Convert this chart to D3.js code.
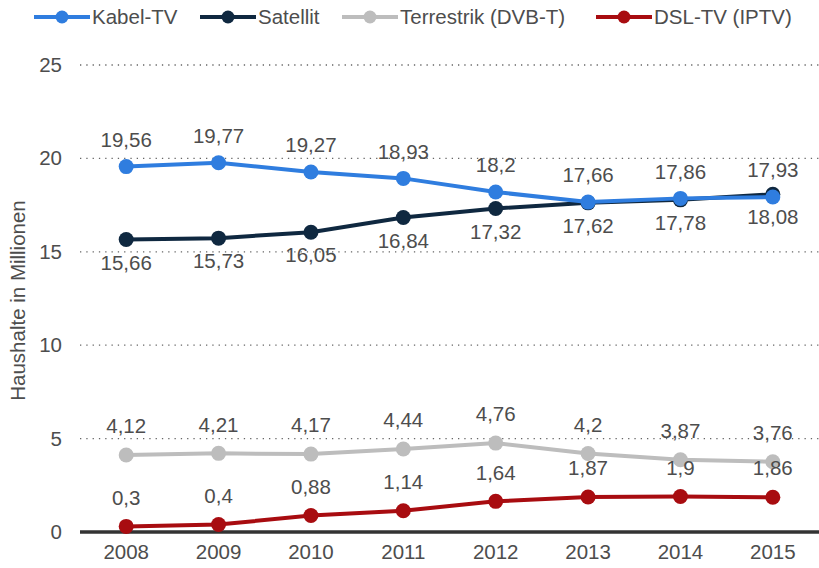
<!DOCTYPE html>
<html>
<head>
<meta charset="utf-8">
<script src="https://cdn.jsdelivr.net/npm/d3@7"></script>
<style>
body { margin: 0; background: #fff; }
svg { font-family: "Liberation Sans", Arial, sans-serif; }
</style>
</head>
<body>
<svg id="chart"></svg>
<script>
var years = ["2008", "2009", "2010", "2011", "2012", "2013", "2014", "2015"];
var kabel = [19.56, 19.77, 19.27, 18.93, 18.2, 17.66, 17.86, 17.93];
var satellit = [15.66, 15.73, 16.05, 16.84, 17.32, 17.62, 17.78, 18.08];
var terrestrik = [4.12, 4.21, 4.17, 4.44, 4.76, 4.2, 3.87, 3.76];
var dsl = [0.3, 0.4, 0.88, 1.14, 1.64, 1.87, 1.9, 1.86];
var yTicks = [0, 5, 10, 15, 20, 25];

var screen = {width: 819, height: 568};
var margins = {top: 65, right: 0, bottom: 36, left: 80};
var width = screen.width - margins.left - margins.right;
var height = screen.height - margins.top - margins.bottom;
var fs = 20.5;
var textColor = "#4d4d4d";

// label offset: negative = above the point
var series = [
    {name: "Kabel-TV", values: kabel, color: "#2f7ddf", dy: -27},
    {name: "Satellit", values: satellit, color: "#0f2840", dy: 23},
    {name: "Terrestrik (DVB-T)", values: terrestrik, color: "#bdbdbd", dy: -29},
    {name: "DSL-TV (IPTV)", values: dsl, color: "#a80c10", dy: -29}
];

var svg = d3.select("#chart")
    .attr("width", screen.width)
    .attr("height", screen.height);

var g = svg.append("g")
    .attr("transform", "translate(" + margins.left + "," + margins.top + ")");

var xScale = d3.scaleBand().domain(years).range([0, width]);
var yScale = d3.scaleLinear().domain([0, 25]).range([height, 0]);
var xc = function(i) { return xScale(years[i]) + xScale.bandwidth() / 2; };

// grid
g.append("g").selectAll("line")
    .data(yTicks.filter(function(t) { return t > 0; }))
    .enter().append("line")
    .attr("x1", 0).attr("x2", width)
    .attr("y1", function(d) { return yScale(d); })
    .attr("y2", function(d) { return yScale(d); })
    .attr("stroke", "#666")
    .attr("stroke-width", 1.3)
    .attr("stroke-dasharray", "1.3,5");

// y axis labels
var yAxis = d3.axisLeft(yScale).tickValues(yTicks).tickSize(0).tickPadding(18);
g.append("g").call(yAxis)
    .call(function(a) { a.select(".domain").remove(); })
    .selectAll("text")
    .attr("font-size", fs).attr("fill", textColor).style("font-family", "inherit");

// x axis
var xAxis = d3.axisBottom(xScale).tickSize(0).tickPadding(12);
var xa = g.append("g").attr("transform", "translate(0," + height + ")").call(xAxis);
xa.select(".domain").remove();
xa.selectAll("text").attr("font-size", fs).attr("fill", textColor).style("font-family", "inherit");
g.append("line")
    .attr("x1", 0).attr("x2", width)
    .attr("y1", yScale(0)).attr("y2", yScale(0))
    .attr("stroke", "#333").attr("stroke-width", 3.5);

// axis title
svg.append("text")
    .attr("transform", "translate(18," + (margins.top + height / 2 + 2) + ") rotate(-90)")
    .attr("text-anchor", "middle")
    .attr("dy", "0.35em")
    .attr("font-size", fs)
    .attr("fill", textColor)
    .text("Haushalte in Millionen");

var line = d3.line()
    .x(function(d, i) { return xc(i); })
    .y(function(d) { return yScale(d); });

// lines + points, drawn in reverse so Kabel/Satellit end up on top
series.slice().reverse().forEach(function(s) {
    var sg = g.append("g");
    sg.append("path")
        .datum(s.values)
        .attr("fill", "none")
        .attr("stroke", s.color)
        .attr("stroke-width", 4)
        .attr("d", line);
    sg.selectAll("circle")
        .data(s.values)
        .enter().append("circle")
        .attr("cx", function(d, i) { return xc(i); })
        .attr("cy", function(d) { return yScale(d); })
        .attr("r", 7.5)
        .attr("fill", s.color);
});

// value labels
series.forEach(function(s) {
    g.append("g").selectAll("text")
        .data(s.values)
        .enter().append("text")
        .attr("x", function(d, i) { return xc(i); })
        .attr("y", function(d) { return yScale(d) + s.dy; })
        .attr("dy", "0.35em")
        .attr("text-anchor", "middle")
        .attr("font-size", fs)
        .attr("fill", textColor)
        .text(function(d) { return String(d).replace(".", ","); });
});

// legend
var legendX = [34, 200, 342, 596];
var lg = svg.append("g").selectAll("g")
    .data(series)
    .enter().append("g")
    .attr("transform", function(d, i) { return "translate(" + legendX[i] + ",17)"; });
lg.append("line")
    .attr("x1", 0).attr("x2", 56)
    .attr("stroke", function(d) { return d.color; })
    .attr("stroke-width", 4);
lg.append("circle")
    .attr("cx", 28).attr("r", 6.5)
    .attr("fill", function(d) { return d.color; });
lg.append("text")
    .attr("x", 58).attr("dy", "0.35em")
    .attr("font-size", fs)
    .attr("fill", textColor)
    .text(function(d) { return d.name; });
</script>
</body>
</html>
